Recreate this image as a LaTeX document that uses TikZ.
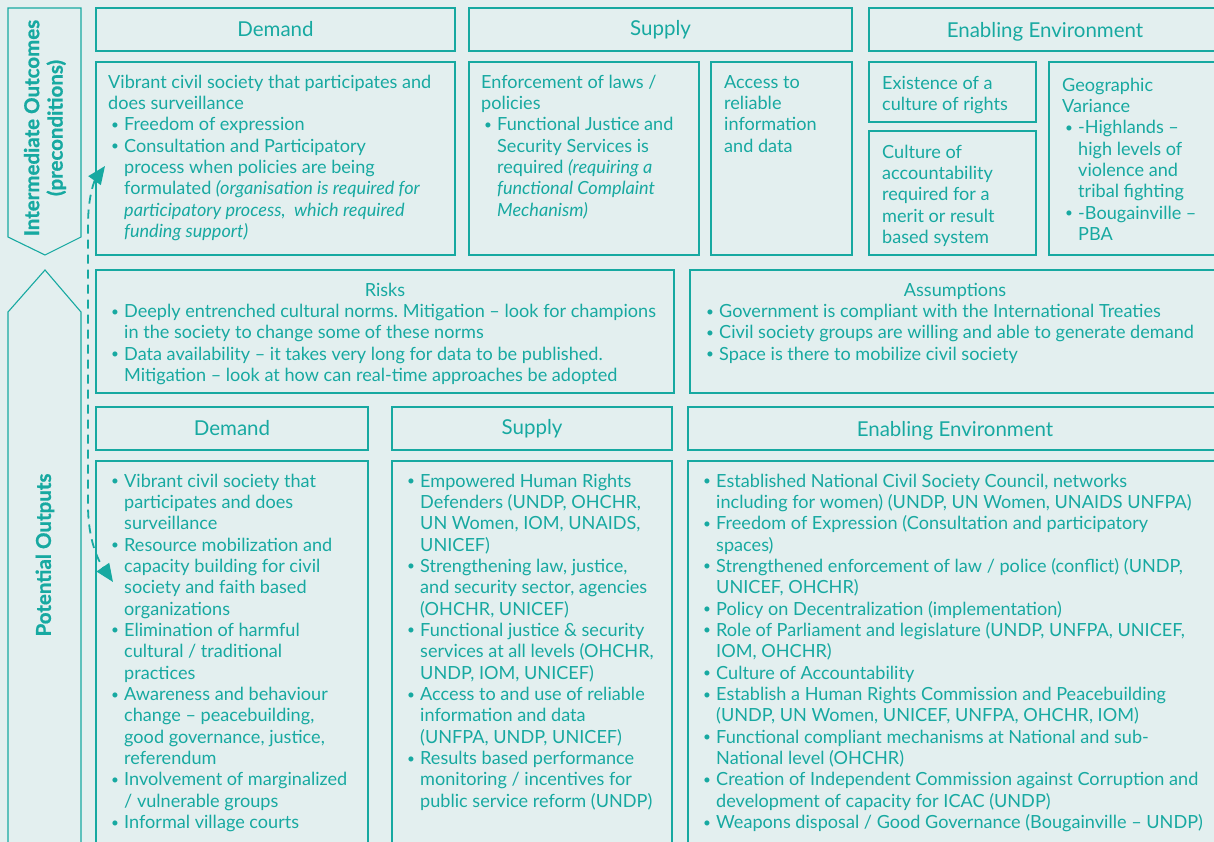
\documentclass[tikz,border=0pt]{standalone}
\usepackage{fontspec}
\setmainfont{Lato}[BoldFont={Lato Bold}]
\usetikzlibrary{arrows.meta}
\definecolor{bgc}{HTML}{E3EFEF}
\definecolor{tl}{HTML}{17A9A1}
\newcommand\Lx[1]{\hbox{#1}}
\newcommand\Bx[1]{\hbox{\makebox[16pt][l]{\hspace{3pt}\raisebox{1.5pt}{\scalebox{0.75}{•}}}#1}}
\newcommand\Ix[1]{\hbox{\hspace{16pt}#1}}
\tikzset{
  boxline/.style={draw=tl, line width=1.6pt},
  hdr/.style={boxline, text=tl, font=\fontsize{20.5}{24}\selectfont, inner sep=0pt},
  txt/.style={anchor=base west, inner sep=0pt, text=tl, font=\frenchspacing\fontsize{18.1}{21.35}\selectfont},
  ctxt/.style={anchor=base, inner sep=0pt, text=tl, font=\fontsize{18.1}{21.35}\selectfont},
  side/.style={draw=tl, line width=1.1pt},
  sidelbl/.style={text=tl, rotate=90, align=center, font=\bfseries\addfontfeatures{FakeBold=0.8}\fontsize{20.5}{23.5}\selectfont, inner sep=0pt},
}
\begin{document}
\begin{tikzpicture}[x=1pt,y=-1pt]
\useasboundingbox (0,0) rectangle (1214,841);
\clip (0,0) rectangle (1214,841);
\fill[bgc] (-5,-5) rectangle (1220,850);

% left side shapes
\draw[side] (8,8) -- (81,8) -- (81,237) -- (45,255) -- (8,237) -- cycle;
\draw[side] (8,850) -- (8,312) -- (45,270) -- (81,312) -- (81,850);
\node[sidelbl] (io) at (45,128) {Intermediate Outcomes\\(preconditions)};
\node[sidelbl] (po) at (45,555) {Potential Outputs};

% top headers
\node[hdr, minimum width=359pt, minimum height=43pt] (h1) at (275.5,29.5) {Demand};
\node[hdr, minimum width=383pt, minimum height=43pt] (h2) at (660.5,29.5) {Supply};
\node[hdr, minimum width=360pt, minimum height=43pt] (h3) at (1049,29.5) {};
\node[ctxt, font=\fontsize{20.5}{24}\selectfont] (h3t) at (1045,37) {Enabling Environment};

% top content boxes
\draw[boxline] (96,62) rectangle (455,255);
\draw[boxline] (469,62) rectangle (699,255);
\draw[boxline] (711,62) rectangle (852,255);
\draw[boxline] (869,62) rectangle (1036,122);
\draw[boxline] (869,131) rectangle (1036,255);
\draw[boxline] (1049,62) rectangle (1225,255);

\node[txt] (t1) at (108,88) {\vtop{%
\Lx{Vibrant civil society that participates and}
\Lx{does surveillance}
\Bx{Freedom of expression}
\Bx{Consultation and Participatory}
\Ix{process when policies are being}
\Ix{formulated \textit{(organisation is required for}}
\Ix{\textit{participatory process,\ \ which required}}
\Ix{\textit{funding support)}}}};

\node[txt] (t2) at (481,88) {\vtop{%
\Lx{Enforcement of laws /}
\Lx{policies}
\Bx{Functional Justice and}
\Ix{Security Services is}
\Ix{required \textit{(requiring a}}
\Ix{\textit{functional Complaint}}
\Ix{\textit{Mechanism)}}}};

\node[txt] (t3) at (724,88) {\vtop{%
\Lx{Access to}
\Lx{reliable}
\Lx{information}
\Lx{and data}}};

\node[txt] (t4) at (882,89) {\vtop{%
\Lx{Existence of a}
\Lx{culture of rights}}};

\node[txt] (t5) at (882,158) {\vtop{%
\Lx{Culture of}
\Lx{accountability}
\Lx{required for a}
\Lx{merit or result}
\Lx{based system}}};

\node[txt] (t6) at (1062,91) {\vtop{%
\Lx{Geographic}
\Lx{Variance}
\Bx{-Highlands –}
\Ix{high levels of}
\Ix{violence and}
\Ix{tribal fighting}
\Bx{-Bougainville –}
\Ix{PBA}}};

% risks and assumptions
\draw[boxline] (96,270) rectangle (674,393);
\draw[boxline] (690,270) rectangle (1225,393);
\node[ctxt] (rk) at (385,296) {Risks};
\node[txt] (t7) at (108,317.5) {\vtop{%
\Bx{Deeply entrenched cultural norms. Mitigation – look for champions}
\Ix{in the society to change some of these norms}
\Bx{Data availability – it takes very long for data to be published.}
\Ix{Mitigation – look at how can real-time approaches be adopted}}};
\node[ctxt] (as) at (955,296) {Assumptions};
\node[txt] (t8) at (703,317.5) {\vtop{%
\Bx{Government is compliant with the International Treaties}
\Bx{Civil society groups are willing and able to generate demand}
\Bx{Space is there to mobilize civil society}}};

% lower headers
\node[hdr, minimum width=272pt, minimum height=43pt] (h4) at (232,428.5) {Demand};
\node[hdr, minimum width=280pt, minimum height=43pt] (h5) at (532,428.5) {Supply};
\node[hdr, minimum width=537pt, minimum height=43pt] (h6) at (956.5,428.5) {};
\node[ctxt, font=\fontsize{20.5}{24}\selectfont] (h6t) at (955,436) {Enabling Environment};

% lower boxes
\draw[boxline] (96,461) rectangle (368,850);
\draw[boxline] (392,461) rectangle (672,850);
\draw[boxline] (688,461) rectangle (1225,850);

\node[txt] (t9) at (108,487) {\vtop{%
\Bx{Vibrant civil society that}
\Ix{participates and does}
\Ix{surveillance}
\Bx{Resource mobilization and}
\Ix{capacity building for civil}
\Ix{society and faith based}
\Ix{organizations}
\Bx{Elimination of harmful}
\Ix{cultural / traditional}
\Ix{practices}
\Bx{Awareness and behaviour}
\Ix{change – peacebuilding,}
\Ix{good governance, justice,}
\Ix{referendum}
\Bx{Involvement of marginalized}
\Ix{/ vulnerable groups}
\Bx{Informal village courts}}};

\node[txt] (t10) at (404,487) {\vtop{%
\Bx{Empowered Human Rights}
\Ix{Defenders (UNDP, OHCHR,}
\Ix{UN Women, IOM, UNAIDS,}
\Ix{UNICEF)}
\Bx{Strengthening law, justice,}
\Ix{and security sector, agencies}
\Ix{(OHCHR, UNICEF)}
\Bx{Functional justice \& security}
\Ix{services at all levels (OHCHR,}
\Ix{UNDP, IOM, UNICEF)}
\Bx{Access to and use of reliable}
\Ix{information and data}
\Ix{(UNFPA, UNDP, UNICEF)}
\Bx{Results based performance}
\Ix{monitoring / incentives for}
\Ix{public service reform (UNDP)}}};

\node[txt] (t11) at (700,487) {\vtop{%
\Bx{Established National Civil Society Council, networks}
\Ix{including for women) (UNDP, UN Women, UNAIDS UNFPA)}
\Bx{Freedom of Expression (Consultation and participatory}
\Ix{spaces)}
\Bx{Strengthened enforcement of law / police (conflict) (UNDP,}
\Ix{UNICEF, OHCHR)}
\Bx{Policy on Decentralization (implementation)}
\Bx{Role of Parliament and legislature (UNDP, UNFPA, UNICEF,}
\Ix{IOM, OHCHR)}
\Bx{Culture of Accountability}
\Bx{Establish a Human Rights Commission and Peacebuilding}
\Ix{(UNDP, UN Women, UNICEF, UNFPA, OHCHR, IOM)}
\Bx{Functional compliant mechanisms at National and sub-}
\Ix{National level (OHCHR)}
\Bx{Creation of Independent Commission against Corruption and}
\Ix{development of capacity for ICAC (UNDP)}
\Bx{Weapons disposal / Good Governance (Bougainville – UNDP)}}};

% dashed double arrow
\coordinate (aT) at (105,166);
\coordinate (aB) at (113,582);
\draw[tl, line width=1.8pt, dash pattern=on 9pt off 6pt, {Triangle[length=18pt,width=15pt]}-{Triangle[length=18pt,width=15pt]}]
  (aT) .. controls (95,180) and (88,195) .. (88,225) -- (88,505) .. controls (88,540) and (98,560) .. (aB);
\end{tikzpicture}
\end{document}
